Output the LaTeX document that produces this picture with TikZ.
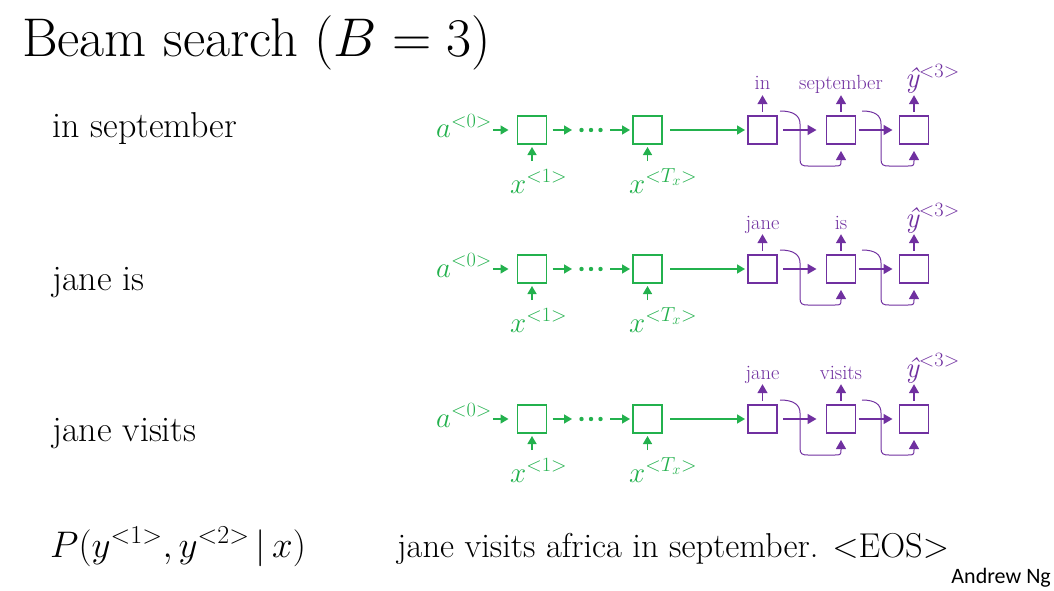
\documentclass[tikz,border=0pt]{standalone}
\usepackage{fix-cm}
\usepackage{fontspec}
\newfontfamily\ngfont{Carlito}
\usetikzlibrary{arrows.meta}
\definecolor{rnngreen}{RGB}{35,177,77}
\definecolor{rnnpurple}{RGB}{112,48,160}
\begin{document}
\begin{tikzpicture}[x=1pt,y=-1pt,
  gbox/.style={draw=rnngreen, line width=1.6pt, minimum width=29pt, minimum height=28pt, inner sep=0pt, outer sep=0pt},
  pbox/.style={draw=rnnpurple, line width=1.6pt, minimum width=29pt, minimum height=28pt, inner sep=0pt, outer sep=0pt},
  garr/.style={draw=rnngreen, line width=1.4pt, -{Triangle[length=8pt,width=9pt]}},
  parr/.style={draw=rnnpurple, line width=1.4pt, -{Triangle[length=9pt,width=10pt]}},
  pcurve/.style={draw=rnnpurple, line width=1pt, -{Triangle[length=9pt,width=10pt]}},
  glab/.style={inner sep=1pt, text=rnngreen, font=\fontsize{29}{31}\selectfont},
  pmath/.style={inner sep=1pt, text=rnnpurple, font=\fontsize{29}{31}\selectfont},
  plab/.style={inner sep=1pt, text=rnnpurple, font=\fontsize{20.5}{22}\selectfont, text depth=0pt},
  bodytext/.style={anchor=base west, inner sep=0pt, font=\fontsize{36}{38}\selectfont}]
\useasboundingbox (0,0) rectangle (1054,591);

\node[anchor=base west, inner sep=0pt, font=\fontsize{54.5}{56}\selectfont] (title) at (22,57) {Beam search ($B = 3$)};

\foreach \r/\yc/\ta/\tb/\lt/\ly in {1/130/in/september/in september/138, 2/269/jane/is/jane is/290, 3/419/jane/visits/jane visits/441} {
  \node[bodytext] (lt\r) at (52,\ly) {\lt};
  % encoder
  \node[gbox] (ga\r) at (532,\yc) {};
  \node[gbox] (gb\r) at (647.5,\yc) {};
  \node[minimum width=38pt, inner sep=0pt, outer sep=0pt] (dd\r) at (591,\yc) {};
  \fill[rnngreen] (dd\r.center) circle (2.2pt) ([xshift=-9.5pt]dd\r.center) circle (2.2pt) ([xshift=9.5pt]dd\r.center) circle (2.2pt);
  \node[glab, anchor=base west] (a\r) at (435,\yc+8) {$a^{<0>}$};
  \draw[garr, shorten >=9pt] (a\r.east |- ga\r.west) -- (ga\r.west);
  \draw[garr, shorten <=6pt] (ga\r.east) -- (dd\r.west);
  \draw[garr, shorten >=3pt] (dd\r.east) -- (gb\r.west);
  \node[glab, anchor=base west] (x\r) at (509,\yc+63) {$x^{<1>}$};
  \node[glab, anchor=base west] (xt\r) at (628,\yc+63) {$x^{<T_x>}$};
  \draw[garr, shorten <=7pt, shorten >=3pt] (ga\r.south |- x\r.north) -- (ga\r.south);
  \draw[garr, shorten <=7pt, shorten >=3pt] (gb\r.south |- x\r.north) -- (gb\r.south);
  % decoder
  \node[pbox] (pa\r) at (762.5,\yc) {};
  \node[pbox] (pb\r) at (841,\yc) {};
  \node[pbox] (pc\r) at (914,\yc) {};
  \draw[garr, shorten <=8pt, shorten >=3pt] (gb\r.east) -- (pa\r.west);
  \draw[parr, shorten <=6pt, shorten >=10pt] (pa\r.east) -- (pb\r.west);
  \draw[parr, shorten <=3pt, shorten >=7pt] (pb\r.east) -- (pc\r.west);
  \node[plab, anchor=base] (la\r) at (762.5,\yc-40) {\ta};
  \node[plab, anchor=base] (lb\r) at (841,\yc-40) {\tb};
  \node[pmath, anchor=base west] (lc\r) at (904,\yc-42) {{\itshape ŷ}$^{<3>}$};
  \draw[parr, shorten <=4pt, shorten >=4pt] (pa\r.north) -- (la\r.south);
  \draw[parr, shorten <=4pt, shorten >=4pt] (pb\r.north) -- (lb\r.south);
  \draw[parr, shorten <=4pt, shorten >=4pt] (pc\r.north) -- (pc\r.north |- la\r.south);
  \draw[pcurve, shorten >=7pt] ([shift={(3pt,5pt)}]pa\r.north east)
     .. controls +(14pt,0pt) and +(0pt,8pt) .. ++(20pt,-13pt)
     -- ++(0pt,-35pt)
     .. controls +(0pt,-6pt) and +(-6pt,0pt) .. ++(8pt,-7pt)
     -- ++(27pt,0pt)
     .. controls +(5pt,0pt) and +(0pt,-5pt) .. ++(6pt,5pt)
     -- (pb\r.south);
  \draw[pcurve, shorten >=7pt] ([shift={(6.5pt,5pt)}]pb\r.north east)
     .. controls +(14pt,0pt) and +(0pt,8pt) .. ++(19pt,-13pt)
     -- ++(0pt,-35pt)
     .. controls +(0pt,-6pt) and +(-6pt,0pt) .. ++(8pt,-7pt)
     -- ++(19pt,0pt)
     .. controls +(5pt,0pt) and +(0pt,-5pt) .. ++(6pt,5pt)
     -- (pc\r.south);
}

\node[anchor=base west, inner sep=0pt, font=\fontsize{37}{39}\selectfont] (prob) at (50,557) {$P(y^{<1>},y^{<2>}\,|\,x)$};
\node[anchor=base west, inner sep=0pt, font=\fontsize{34.5}{36}\selectfont] (sent) at (397,557) {jane visits africa in september. <EOS>};
\node[anchor=base east, inner sep=0pt, font={\ngfont\fontsize{22}{24}\selectfont}] (ng) at (1051,583) {Andrew Ng};
\end{tikzpicture}
\end{document}
